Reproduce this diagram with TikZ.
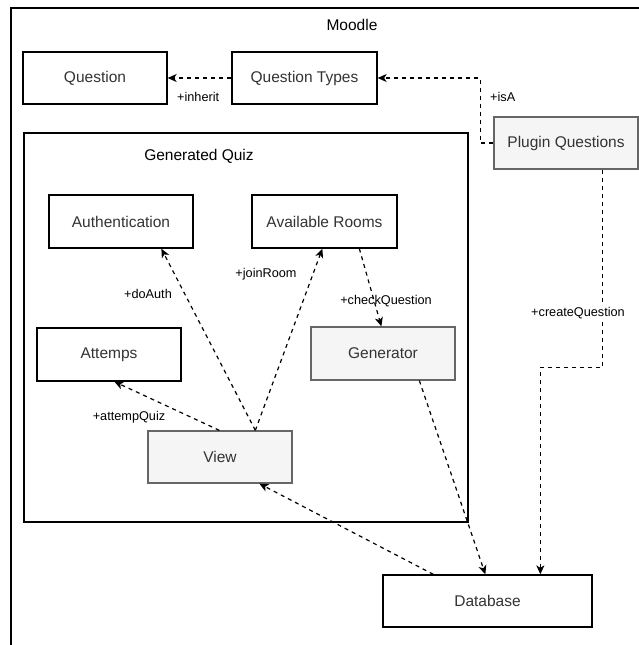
\documentclass[tikz,border=0pt]{standalone}
\usepackage{fontspec}
\setmainfont{Liberation Sans}
\usetikzlibrary{arrows.meta}
\definecolor{txt}{HTML}{333333}
\definecolor{greyfill}{HTML}{F5F5F5}
\definecolor{greyline}{HTML}{666666}
\begin{document}
\begin{tikzpicture}[x=1pt,y=-1pt,
  boxfont/.style={font=\fontsize{15.5}{18}\selectfont},
  box/.style={draw=black,line width=1.3pt,fill=white,inner sep=0pt},
  greybox/.style={draw=greyline,line width=1.3pt,fill=greyfill,inner sep=0pt},
  boxtext/.style={text=txt,boxfont,inner sep=0pt},
  link/.style={draw=black,line width=1.2pt,dash pattern=on 4pt off 4pt,
    -{Stealth[length=9pt,width=8pt,inset=2.5pt]}},
  lbl/.style={text=black,font=\fontsize{12.7}{15}\selectfont,inner sep=0pt},
  title/.style={text=black,boxfont,inner sep=0pt}]
\useasboundingbox (0,0) rectangle (639,645);
\fill[white] (0,0) rectangle (639,645);
% outer Moodle container, running past the page edges
\begin{scope}
  \clip (0,0) rectangle (639,645);
  \draw[line width=1.5pt] (11,8) rectangle (700,700);
\end{scope}
\node[title] (moodle) at (352,25) {Moodle};

% Generated Quiz container
\draw[line width=1.5pt] (24,133) rectangle (468,522);
\node[title] (gq) at (199,156) {Generated Quiz};

% a class box given by two corners: style, x1, y1, x2, y2, name, text
\newcommand{\umlbox}[7]{%
  \node[#1,minimum width={#4-#2},minimum height={#5-#3}]
    (#6) at ({(#2+#4)/2},{(#3+#5)/2}) {};
  \node[boxtext] at (#6) {#7};}
\umlbox{box}{23}{52}{167}{104}{question}{Question}
\umlbox{box}{232}{52}{377}{104}{qtypes}{Question Types}
\umlbox{greybox}{494}{117}{638}{169}{plugin}{Plugin Questions}
\umlbox{box}{49}{195}{193}{248}{auth}{Authentication}
\umlbox{box}{252}{195}{397}{248}{rooms}{Available Rooms}
\umlbox{box}{37}{328}{181}{381}{attemps}{Attemps}
\umlbox{greybox}{311}{327}{455}{380}{generator}{Generator}
\umlbox{greybox}{148}{431}{292}{483}{view}{View}
\umlbox{box}{383}{575}{592}{627}{database}{Database}

% connectors
\draw[link] (qtypes.west) -- (question.east);
\node[lbl,anchor=west] (linherit) at (177,97) {+inherit};

\draw[link] (plugin.west) -- ++(-13,0) |- (qtypes.east);
\node[lbl,anchor=west] (lisa) at (490,97) {+isA};

\draw[link] ([xshift=108pt]view.north west) -- ([xshift=113pt]auth.south west);
\node[lbl] (ldoauth) at (148,294) {+doAuth};

\draw[link] ([xshift=108pt]view.north west) -- ([xshift=71pt]rooms.south west);
\node[lbl] (ljoin) at (266,274) {+joinRoom};

\draw[link] ([xshift=108pt]rooms.south west) -- ([xshift=71pt]generator.north west);
\node[lbl] (lcheck) at (386,301) {+checkQuestion};

\draw[link] ([xshift=72pt]view.north west) -- ([xshift=78pt]attemps.south west);
\node[lbl] (lattemp) at (129,417) {+attempQuiz};

\draw[link] ([xshift=51pt]database.north west) -- ([xshift=112pt]view.south west);
\draw[link] ([xshift=109pt]generator.south west) -- ([xshift=103pt]database.north west);

\draw[link] ([xshift=109pt]plugin.south west) -- ++(0,198) -| ([xshift=158pt]database.north west);
\node[lbl,fill=white,inner sep=1pt] (lcreate) at (578,313) {+createQuestion};
\end{tikzpicture}
\end{document}
